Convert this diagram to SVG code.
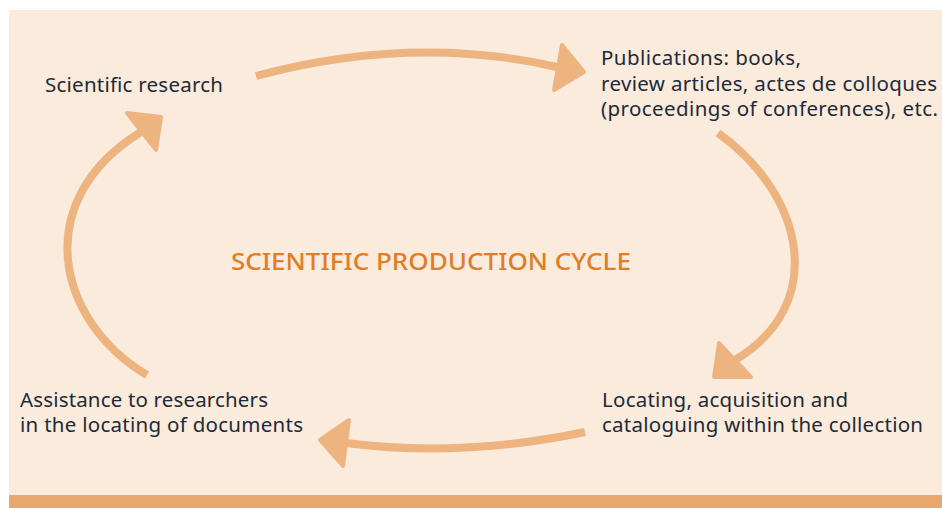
<svg xmlns="http://www.w3.org/2000/svg" width="942" height="508" viewBox="0 0 942 508">
<style>
.t{font-family:"Noto Sans","Open Sans","DejaVu Sans",sans-serif;font-size:20.5px;fill:#1d2a38}
.title{font-family:"Noto Sans","Open Sans","DejaVu Sans",sans-serif;font-size:24px;font-weight:500;fill:#e17d27}
.ln{fill:none;stroke:#eeb47f;stroke-width:8}
.hd{fill:#eeb47f;stroke:#eeb47f;stroke-width:4;stroke-linejoin:round}
</style>
<rect x="0" y="0" width="942" height="508" fill="#ffffff"/>
<rect x="9" y="10" width="933" height="485" fill="#fbebdd"/>
<rect x="9" y="495" width="933" height="13" fill="#e9a76d"/>
<g id="connectors">
<path class="ln" d="M256,76 Q412,34 557,67"/>
<polygon class="hd" points="562,45 584,72 554,90"/>
<path class="ln" d="M718,133 C805,195 828,305 735,360"/>
<polygon class="hd" points="719,343 751,377 714,377"/>
<path class="ln" d="M585,432 Q460,458 346,443"/>
<polygon class="hd" points="349,420 320,440 343,466"/>
<path class="ln" d="M147,375 C55,320 30,200 141,132"/>
<polygon class="hd" points="127,113 161,117 156,150"/>
</g>
<g id="title"><text class="title" x="231" y="270" textLength="400" lengthAdjust="spacingAndGlyphs">SCIENTIFIC PRODUCTION CYCLE</text></g>
<g id="research"><text class="t" x="45" y="91.5" textLength="178">Scientific research</text></g>
<g id="publications"><text class="t" x="601" y="64.5" textLength="200">Publications: books,</text><text class="t" x="601" y="90.5" textLength="336">review articles, actes de colloques</text><text class="t" x="601" y="116" textLength="337">(proceedings of conferences), etc.</text></g>
<g id="locating"><text class="t" x="602" y="406.5" textLength="246">Locating, acquisition and</text><text class="t" x="602" y="432" textLength="321">cataloguing within the collection</text></g>
<g id="assistance"><text class="t" x="20" y="406.5" textLength="248">Assistance to researchers</text><text class="t" x="20" y="432" textLength="283">in the locating of documents</text></g>
</svg>
